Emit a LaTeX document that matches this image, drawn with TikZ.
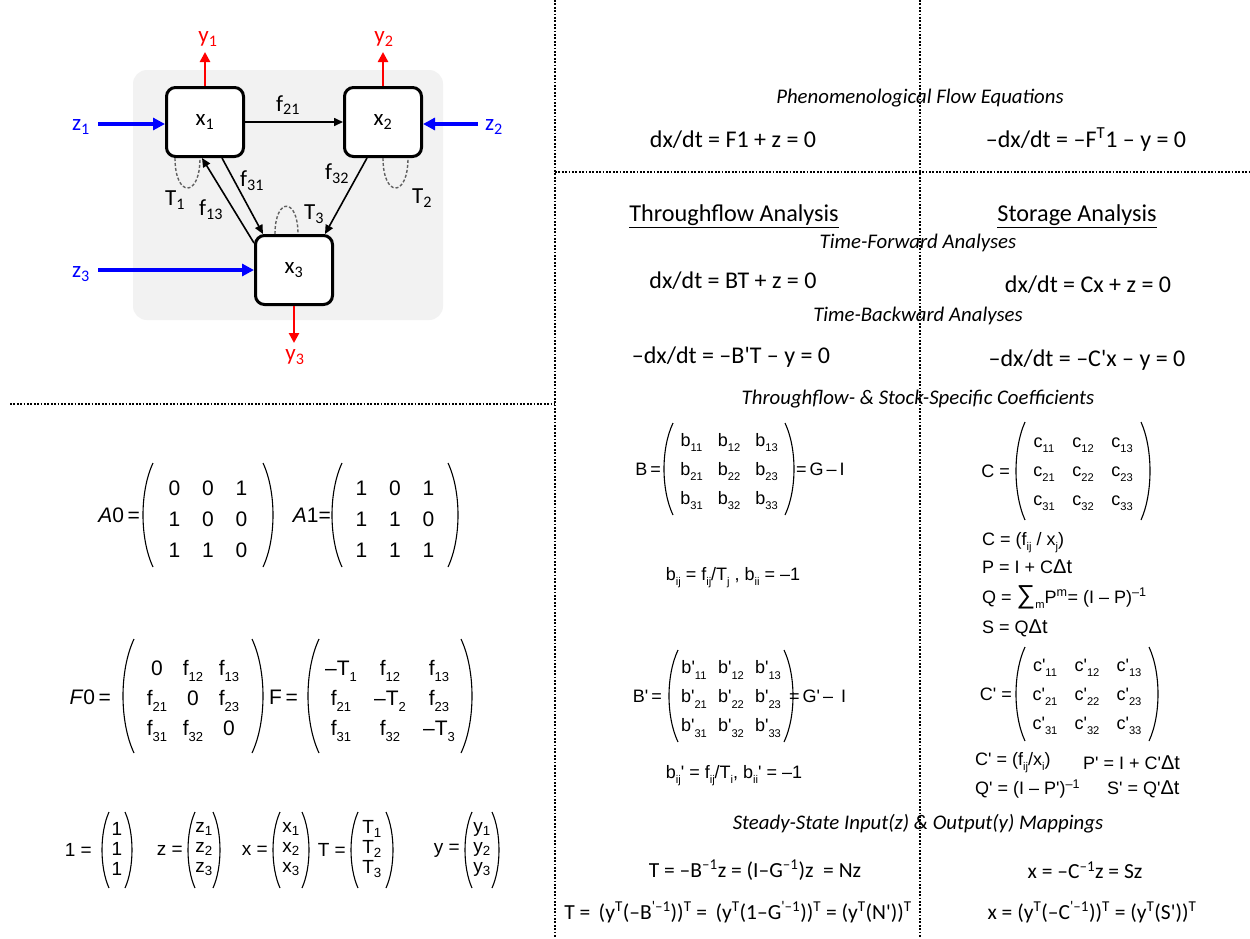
\documentclass[tikz,border=0pt]{standalone}
\usepackage{fontspec}
\setmainfont{Carlito}
\newfontfamily\arial{Liberation Sans}
\usetikzlibrary{matrix,arrows.meta}
\definecolor{bgpanel}{HTML}{F2F2F2}
\definecolor{zblue}{HTML}{0000FF}
\definecolor{yred}{HTML}{FF0000}
\definecolor{loopgray}{HTML}{606060}
\newcommand\low[1]{\textsubscript{#1}}
\newcommand\up[1]{\textsuperscript{#1}}
\newcommand\asub[1]{\raisebox{-0.28em}{\scalebox{0.62}{#1}}}
\newcommand\pr{\textquotesingle}
\newcommand\fsz[1]{\fontsize{#1}{#1}\selectfont}
\newcommand\parens[5]{% node, dy, halfwidth, halfheight, bulge
  \begin{scope}[shift={(#1.center)}]
    \draw[parenline] (-#3+#5,#2-#4) .. controls (-#3-#5/3,#2-0.45*#4) and (-#3-#5/3,#2+0.45*#4) .. (-#3+#5,#2+#4);
    \draw[parenline] (#3-#5,#2-#4) .. controls (#3+#5/3,#2-0.45*#4) and (#3+#5/3,#2+0.45*#4) .. (#3-#5,#2+#4);
  \end{scope}}
\tikzset{
  sepline/.style={line width=1.8pt, dash pattern=on 1.8pt off 1.6pt},
  parenline/.style={line width=1.1pt},
  arrmat/.style={matrix of nodes, inner sep=0pt, nodes={anchor=base, inner sep=0pt, font=\arial\fsz{#1}}},
  stock/.style={draw, line width=3pt, rounded corners=9pt, fill=white, minimum width=77pt, minimum height=69pt, font=\fsz{23}, inner sep=0pt},
  flow/.style={-{Triangle[length=9pt,width=8pt]}, line width=1.6pt},
  inflow/.style={-{Triangle[length=12pt,width=12pt]}, line width=3.5pt, draw=zblue},
  outflow/.style={-{Triangle[length=10pt,width=10pt]}, line width=2.5pt, draw=yred},
  turnover/.style={draw=loopgray, line width=1.4pt, dash pattern=on 3pt off 2pt},
  lab/.style={font=\fsz{23}, inner sep=0pt},
  eqn/.style={font=\fsz{24}, inner sep=0pt},
  eqs/.style={font=\fsz{21.5}, inner sep=0pt},
  hdr/.style={font=\itshape\fsz{20.8}, inner sep=0pt},
  ttl/.style={font=\fsz{24.2}, inner sep=0pt},
  atxt/.style={font=\arial\fsz{18}, inner sep=0pt},
  albl/.style={font=\arial\fsz{21}, inner sep=0pt, anchor=east},
  vlbl/.style={font=\arial\fsz{19}, inner sep=0pt, anchor=east},
}
\begin{document}
\begin{tikzpicture}[x=1pt,y=-1pt]
\useasboundingbox (0,0) rectangle (1250,938);
\fill[white] (0,0) rectangle (1250,938);
% separators
\draw[sepline] (555,0) -- (555,938);
\draw[sepline] (920,0) -- (920,938);
\draw[sepline] (555,172) -- (1250,172);
\draw[sepline] (10,404) -- (555,404);

% ---------------- network diagram ----------------
\fill[bgpanel, rounded corners=14pt] (133,70) rectangle (443,320);
\node[stock] (x1) at (205,122) {\raisebox{-3pt}{x\low{1}}};
\node[stock] (x2) at (383,122) {\raisebox{-3pt}{x\low{2}}};
\node[stock] (x3) at (294,270) {\raisebox{-3pt}{x\low{3}}};

\draw[flow] (x1.east) -- (x2.west);
\draw[flow] ([xshift=17pt]x1.south) -- ([xshift=-31pt]x3.north);
\draw[flow] ([yshift=-9pt]x3.north west) -- ([xshift=-3pt]x1.south);
\draw[flow] ([xshift=-16pt]x2.south) -- ([xshift=31pt]x3.north);

\draw[turnover] ([xshift=-30pt]x1.south) .. controls +(0,40) and +(0,40) .. ([xshift=-5pt]x1.south);
\draw[turnover] ([xshift=0pt]x2.south) .. controls +(0,40) and +(0,40) .. ([xshift=25pt]x2.south);
\draw[turnover] ([xshift=-19pt]x3.north) .. controls +(0,-37) and +(0,-37) .. ([xshift=4pt]x3.north);

\coordinate (z1s) at (98,124);
\coordinate (z2s) at (478,124);
\coordinate (z3s) at (98,270);
\draw[inflow] (z1s) -- (z1s -| x1.west);
\draw[inflow] (z2s) -- (z2s -| x2.east);
\draw[inflow] (z3s) -- (z3s -| x3.west);
\node[lab, text=zblue] (z1) at (81,127) {z\low{1}};
\node[lab, text=zblue] (z2) at (494,127) {z\low{2}};
\node[lab, text=zblue] (z3) at (81,274) {z\low{3}};

\coordinate (y1e) at (205,52);
\coordinate (y2e) at (383,52);
\coordinate (y3e) at (294,343);
\draw[outflow] (x1.north) -- (y1e);
\draw[outflow] (x2.north) -- (y2e);
\draw[outflow] (x3.south) -- (y3e);
\node[lab, text=yred] (y1) at (208,39) {y\low{1}};
\node[lab, text=yred] (y2) at (384,39) {y\low{2}};
\node[lab, text=yred] (y3) at (295,357) {y\low{3}};

\node[lab] (f21) at (288,105) {f\low{21}};
\node[lab] (f31) at (252,181) {f\low{31}};
\node[lab] (f13) at (211,210) {f\low{13}};
\node[lab] (f32) at (337,174) {f\low{32}};
\node[lab] (T1) at (175,200) {T\low{1}};
\node[lab] (T2) at (422,198) {T\low{2}};
\node[lab] (T3) at (314,214) {T\low{3}};

% ---------------- left matrices ----------------
\matrix (A0) [arrmat=21, column sep={33.5pt,between origins}, row sep={31pt,between origins}] at (208,519)
 {0 & 0 & 1\\ 1 & 0 & 0\\ 1 & 1 & 0\\};
\parens{A0}{-4}{65}{52}{10}
\node[albl] (A0l) at (140,515) {\textit{A}0\,=};
\matrix (A1) [arrmat=21, column sep={33.5pt,between origins}, row sep={31pt,between origins}] at (395,519)
 {1 & 0 & 1\\ 1 & 1 & 0\\ 1 & 1 & 1\\};
\parens{A1}{-4}{63}{52}{10}
\node[albl] (A1l) at (331,515) {\textit{A}1=};

\matrix (F0) [arrmat=21, column sep={36pt,between origins}, row sep={30pt,between origins}] at (193,701)
 {0 & f\asub{12} & f\asub{13}\\ f\asub{21} & 0 & f\asub{23}\\ f\asub{31} & f\asub{32} & 0\\};
\parens{F0}{-5}{70}{57}{11}
\node[albl] (F0l) at (111,697) {\textit{F}0\,=};
\matrix (F) [arrmat=21, column sep={49pt,between origins}, row sep={30pt,between origins}] at (390,701)
 {–T\asub{1} & f\asub{12} & f\asub{13}\\ f\asub{21} & –T\asub{2} & f\asub{23}\\ f\asub{31} & f\asub{32} & –T\asub{3}\\};
\parens{F}{-5}{82}{57}{11}
\node[albl] (Fl) at (298,697) {F\,=};

% vectors
\matrix (v1) [arrmat=19, row sep={20pt,between origins}] at (117,849) {1\\ 1\\ 1\\};
\parens{v1}{1}{15}{38}{7}
\node[vlbl] (v1l) at (92,850) {1 =};
\matrix (vz) [arrmat=19, row sep={20pt,between origins}] at (204,849) {z\low{1}\\ z\low{2}\\ z\low{3}\\};
\parens{vz}{1}{16}{38}{7}
\node[vlbl] (vzl) at (183,850) {z =};
\matrix (vx) [arrmat=19, row sep={20pt,between origins}] at (291,849) {x\low{1}\\ x\low{2}\\ x\low{3}\\};
\parens{vx}{1}{18}{38}{7}
\node[vlbl] (vxl) at (268,850) {x =};
\matrix (vT) [arrmat=19, row sep={20pt,between origins}] at (372,849) {T\low{1}\\ T\low{2}\\ T\low{3}\\};
\parens{vT}{1}{21}{38}{7}
\node[vlbl] (vTl) at (346,850) {T =};
\matrix (vy) [arrmat=19, row sep={20pt,between origins}] at (482,849) {y\low{1}\\ y\low{2}\\ y\low{3}\\};
\parens{vy}{1}{17}{38}{7}
\node[vlbl] (vyl) at (460,850) {y =};

% ---------------- right side ----------------
\node[hdr] (phen) at (920,98) {Phenomenological Flow Equations};
\node[eqn] (e1) at (733,140) {dx/dt = F1 + z = 0};
\node[eqn] (e2) at (1086,140) {–dx/dt = –F\up{T}1 – y = 0};
\node[ttl] (thr) at (734,216) {\underline{Throughflow Analysis}};
\node[ttl] (sto) at (1077,216) {\underline{Storage Analysis}};
\node[hdr] (tfw) at (918,243) {Time-Forward Analyses};
\node[eqn] (e3) at (733,281) {dx/dt = BT + z = 0};
\node[eqn] (e4) at (1088,285) {dx/dt = Cx + z = 0};
\node[hdr] (tbw) at (918,316) {Time-Backward Analyses};
\node[eqn] (e5) at (731,357) {–dx/dt = –B\pr T – y = 0};
\node[eqn] (e6) at (1087,360) {–dx/dt = –C\pr x – y = 0};
\node[hdr] (tsc) at (918,399) {Throughflow- \& Stock-Specific Coefficients};

\matrix (B) [arrmat=18, column sep={37.5pt,between origins}, row sep={29pt,between origins}] at (729,472)
 {b\asub{11} & b\asub{12} & b\asub{13}\\ b\asub{21} & b\asub{22} & b\asub{23}\\ b\asub{31} & b\asub{32} & b\asub{33}\\};
\parens{B}{-3}{65}{46}{9}
\node[atxt, anchor=east] (Bl) at (661,469) {B\,=};
\node[atxt, anchor=west] (Br) at (796,469) {=\,G\,–\,I};
\node[atxt] (bij) at (733,578) {b\asub{ij} = f\asub{ij}/T\asub{j} , b\asub{ii} = –1};

\matrix (C) [arrmat=18, column sep={39pt,between origins}, row sep={29pt,between origins}] at (1083,474)
 {c\asub{11} & c\asub{12} & c\asub{13}\\ c\asub{21} & c\asub{22} & c\asub{23}\\ c\asub{31} & c\asub{32} & c\asub{33}\\};
\parens{C}{-3}{67}{49}{9}
\node[atxt, anchor=east] (Cl) at (1010,471) {C =};
\node[atxt, anchor=west] (c1) at (982,543) {C = (f\asub{ij} / x\asub{j})};
\node[atxt, anchor=west] (c2) at (982,567) {P = I + C{\fsz{20}Δt}};
\node[atxt, anchor=west] (c3) at (982,597) {Q = {\fsz{26}∑}\asub{m}P\up{m}= (I – P)\up{–1}};
\node[atxt, anchor=west] (c4) at (982,628) {S = Q{\fsz{20}Δt}};

\matrix (Bp) [arrmat=18, column sep={37pt,between origins}, row sep={29pt,between origins}] at (731,699)
 {b\pr\asub{11} & b\pr\asub{12} & b\pr\asub{13}\\ b\pr\asub{21} & b\pr\asub{22} & b\pr\asub{23}\\ b\pr\asub{31} & b\pr\asub{32} & b\pr\asub{33}\\};
\parens{Bp}{-3}{62}{46}{9}
\node[atxt, anchor=east] (Bpl) at (662,696) {B\pr\,=};
\node[atxt, anchor=west] (Bpr) at (789,696) {=\,G\pr\,–\, I};
\node[atxt] (bpij) at (734,776) {b\asub{ij}\pr\ = f\asub{ij}/T\asub{i}, b\asub{ii}\pr\ = –1};

\matrix (Cp) [arrmat=18, column sep={42pt,between origins}, row sep={29pt,between origins}] at (1087,697)
 {c\pr\asub{11} & c\pr\asub{12} & c\pr\asub{13}\\ c\pr\asub{21} & c\pr\asub{22} & c\pr\asub{23}\\ c\pr\asub{31} & c\pr\asub{32} & c\pr\asub{33}\\};
\parens{Cp}{-3}{71}{47}{9}
\node[atxt, anchor=east] (Cpl) at (1012,694) {C\pr\ =};
\node[atxt, anchor=west] (cp1) at (975,763) {C\pr\ = (f\asub{ij}/x\asub{i})};
\node[atxt, anchor=west] (cp2) at (1083,763) {P\pr\ = I + C\pr{\fsz{20}Δt}};
\node[atxt, anchor=west] (cp3) at (975,789) {Q\pr\ = (I – P\pr)\up{–1}};
\node[atxt, anchor=west] (cp4) at (1107,789) {S\pr\ = Q\pr{\fsz{20}Δt}};

\node[hdr] (sst) at (918,824) {Steady-State Input(z) \& Output(y) Mappings};
\node[eqs] (e7) at (755,870) {T = –B\up{–1}z = (I–G\up{–1})z \ = Nz};
\node[eqs] (e8) at (1085,870) {x = –C\up{–1}z = Sz};
\node[eqs] (e9) at (738,912) {T = \,(y\up{T}(–B\up{\pr–1}))\up{T} = \,(y\up{T}(1–G\up{\pr–1}))\up{T} = (y\up{T}(N\pr))\up{T}};
\node[eqs] (e10) at (1092,912) {x = (y\up{T}(–C\up{\pr–1}))\up{T} = (y\up{T}(S\pr))\up{T}};
\end{tikzpicture}
\end{document}
